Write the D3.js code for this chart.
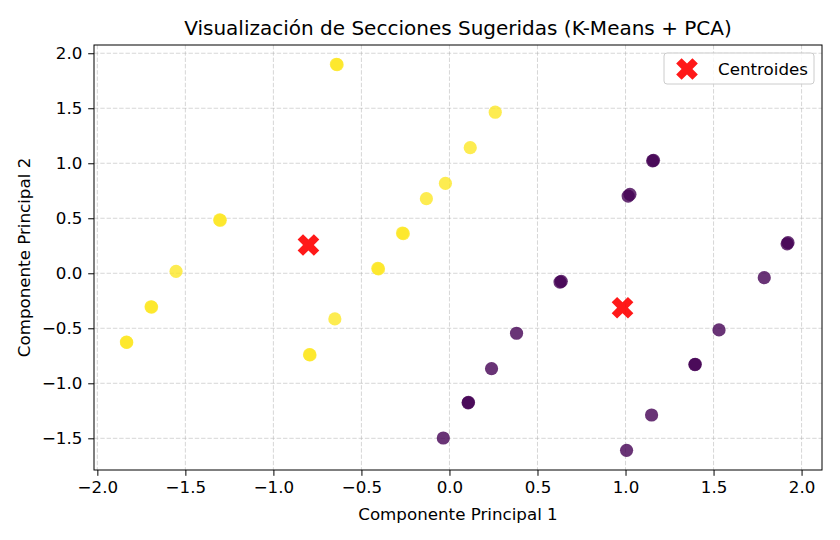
<!DOCTYPE html>
<html>
<head>
<meta charset="utf-8">
<script src="https://cdn.jsdelivr.net/npm/d3@7"></script>
<style>
body { margin: 0; background: #fff; }
text { font-family: "DejaVu Sans", sans-serif; fill: #000; }
</style>
</head>
<body>
<svg id="chart" width="840" height="540"></svg>
<script>
const width = 840;
const height = 540;
const margin = {top: 45, right: 18, bottom: 70, left: 94};

// PCA coordinates of the sections, with their K-Means cluster
const pc1 = [-0.642, -0.638, -1.305, -1.302, -0.023, -0.131, -0.267, -0.262,
    -1.553, -1.695, -1.692, -1.835, -1.833, -0.407, -0.403, -0.651, -0.795, -0.792,
    0.260, 0.118,
    1.159, 1.154, 1.025, 1.015, 1.923, 1.918, 0.635, 0.628, 1.396, 1.394, 0.108, 0.106,
    1.788, 0.381, 1.531, 0.239, -0.035, 1.148, 1.006];
const pc2 = [1.900, 1.896, 0.485, 0.482, 0.818, 0.678, 0.366, 0.360,
    0.018, -0.304, -0.307, -0.625, -0.628, 0.045, 0.040, -0.415, -0.740, -0.742,
    1.464, 1.142,
    1.027, 1.022, 0.718, 0.702, 0.278, 0.268, -0.073, -0.080, -0.827, -0.830, -1.173, -1.177,
    -0.040, -0.545, -0.515, -0.867, -1.497, -1.288, -1.609];
const cluster = [1, 1, 1, 1, 1, 1, 1, 1, 1, 1, 1, 1, 1, 1, 1, 1, 1, 1, 1, 1,
    0, 0, 0, 0, 0, 0, 0, 0, 0, 0, 0, 0, 0, 0, 0, 0, 0, 0, 0];
const centroidX = [-0.801, 0.983];
const centroidY = [0.257, -0.313];
const xTicks = [-2.0, -1.5, -1.0, -0.5, 0.0, 0.5, 1.0, 1.5, 2.0];
const yTicks = [-1.5, -1.0, -0.5, 0.0, 0.5, 1.0, 1.5, 2.0];

const fmt = v => d3.format('.1f')(v).replace('-', '\u2212');

const svg = d3.select('#chart');
const iw = width - margin.left - margin.right;
const ih = height - margin.top - margin.bottom;

const x = d3.scaleLinear().domain([-2.019, 2.116]).range([0, iw]);
const y = d3.scaleLinear().domain([-1.788, 2.075]).range([ih, 0]);
const color = d3.scaleOrdinal().domain([0, 1]).range(['#440154', '#fde725']);

const g = svg.append('g')
    .attr('transform', `translate(${margin.left},${margin.top})`);

// grid
g.append('g')
    .selectAll('line')
    .data(xTicks)
    .enter().append('line')
    .attr('x1', d => x(d)).attr('x2', d => x(d))
    .attr('y1', 0).attr('y2', ih)
    .style('stroke', '#b0b0b0').style('stroke-opacity', 0.5)
    .style('stroke-width', 1).style('stroke-dasharray', '4.4,1.9');
g.append('g')
    .selectAll('line')
    .data(yTicks)
    .enter().append('line')
    .attr('y1', d => y(d)).attr('y2', d => y(d))
    .attr('x1', 0).attr('x2', iw)
    .style('stroke', '#b0b0b0').style('stroke-opacity', 0.5)
    .style('stroke-width', 1).style('stroke-dasharray', '4.4,1.9');

// points
g.append('g')
    .selectAll('circle')
    .data(pc1)
    .enter().append('circle')
    .attr('cx', d => x(d))
    .attr('cy', (_, i) => y(pc2[i]))
    .attr('r', 6.6)
    .style('fill', (_, i) => color(cluster[i]))
    .style('fill-opacity', 0.8);

// filled X marker like matplotlib
function xMarker(s) {
    const L = s, w = s / 3;
    const pts = [[-w, -L], [w, -L], [w, -w], [L, -w], [L, w], [w, w], [w, L], [-w, L],
        [-w, w], [-L, w], [-L, -w], [-w, -w]];
    return 'M' + pts.map(p => p.join(',')).join('L') + 'Z';
}

g.append('g')
    .selectAll('path')
    .data(centroidX)
    .enter().append('path')
    .attr('d', xMarker(11.5))
    .attr('transform', (d, i) => `translate(${x(d)},${y(centroidY[i])}) rotate(45)`)
    .style('fill', '#ff0000')
    .style('fill-opacity', 0.9);

// axes
const xAxis = g.append('g')
    .attr('transform', `translate(0,${ih})`)
    .call(d3.axisBottom(x).tickValues(xTicks).tickFormat(fmt).tickSizeOuter(0).tickSize(5.8).tickPadding(5.8));
const yAxis = g.append('g')
    .call(d3.axisLeft(y).tickValues(yTicks).tickFormat(fmt).tickSizeOuter(0).tickSize(5.8).tickPadding(5.8));
[xAxis, yAxis].forEach(a => {
    a.selectAll('text').style('font-size', '16.7px').style('font-family', '"DejaVu Sans", sans-serif');
    a.selectAll('line').style('stroke', '#000').style('stroke-width', 1);
    a.select('.domain').remove();
});

g.append('rect')
    .attr('width', iw).attr('height', ih)
    .style('fill', 'none').style('stroke', '#000').style('stroke-width', 1);

// legend
const legend = g.append('g')
    .attr('transform', `translate(${iw - 158},8)`);
legend.append('rect')
    .attr('width', 150).attr('height', 31).attr('rx', 3)
    .style('fill', '#fff').style('fill-opacity', 0.8)
    .style('stroke', '#cccccc').style('stroke-width', 1);
legend.append('path')
    .attr('d', xMarker(11.5))
    .attr('transform', 'translate(23,16) rotate(45)')
    .style('fill', '#ff0000').style('fill-opacity', 0.9);
legend.append('text')
    .attr('x', 54).attr('y', 22)
    .style('font-size', '16.7px')
    .text('Centroides');

// titles
svg.append('text')
    .attr('x', margin.left + iw / 2).attr('y', 35)
    .attr('text-anchor', 'middle')
    .style('font-size', '20px')
    .text('Visualización de Secciones Sugeridas (K-Means + PCA)');
svg.append('text')
    .attr('x', margin.left + iw / 2).attr('y', 520)
    .attr('text-anchor', 'middle')
    .style('font-size', '16.7px')
    .text('Componente Principal 1');
svg.append('text')
    .attr('transform', `translate(30,${margin.top + ih / 2}) rotate(-90)`)
    .attr('text-anchor', 'middle')
    .style('font-size', '16.7px')
    .text('Componente Principal 2');
</script>
</body>
</html>
